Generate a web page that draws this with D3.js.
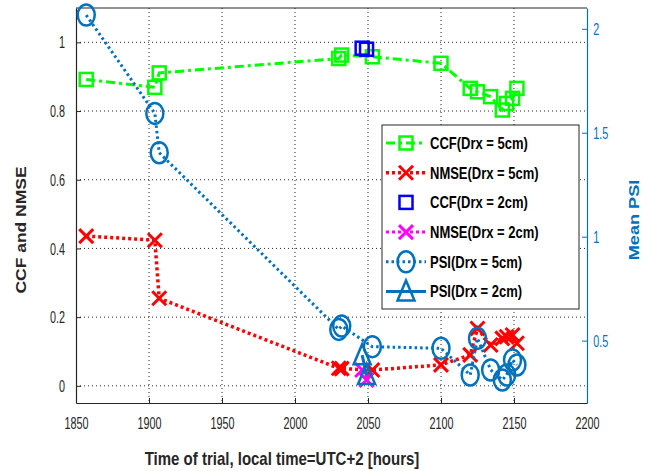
<!DOCTYPE html>
<html>
<head>
<meta charset="utf-8">
<script src="https://cdn.jsdelivr.net/npm/d3@7"></script>
<style>
  body { margin: 0; background: #fff; }
  svg { font-family: "Liberation Sans", Arial, Helvetica, sans-serif; }
</style>
</head>
<body>
<div id="chart"></div>
<script>
// values
var times5 = [1857, 1904, 1907, 2030, 2032, 2053, 2100, 2120, 2125, 2134, 2142, 2145, 2149, 2152];
var ccf5 = [0.892, 0.869, 0.911, 0.953, 0.963, 0.958, 0.939, 0.866, 0.856, 0.842, 0.803, 0.822, 0.837, 0.866];
var nmse5 = [0.436, 0.424, 0.255, 0.051, 0.05, 0.046, 0.061, 0.09, 0.167, 0.119, 0.138, 0.143, 0.148, 0.124];
var psi5 = [2.066, 1.593, 1.404, 0.554, 0.57, 0.471, 0.463, 0.335, 0.511, 0.359, 0.311, 0.335, 0.407, 0.383];

var times2 = [2046, 2049];
var ccf2 = [0.983, 0.98];
var nmse2 = [0.046, 0.017];
var psi2 = [0.43, 0.335];

var x_ticks = [1850, 1900, 1950, 2000, 2050, 2100, 2150, 2200];
var left_ticks = [0, 0.2, 0.4, 0.6, 0.8, 1];
var right_ticks = [0.5, 1, 1.5, 2];

var legend_labels = ['CCF(Drx = 5cm)', 'NMSE(Drx = 5cm)', 'CCF(Drx = 2cm)',
  'NMSE(Drx = 2cm)', 'PSI(Drx = 5cm)', 'PSI(Drx = 2cm)'];

var chart_width = 652;
var chart_height = 471;
var plot_left = 76, plot_right = 587, plot_top = 8, plot_bottom = 403;

var green = '#00ff00', red = '#ff0000', blue = '#0000ff', magenta = '#ff00ff', psi_blue = '#0072bd';

var svg = d3.select('#chart')
  .append('svg')
  .attr('width', chart_width)
  .attr('height', chart_height);

var x_scale = d3.scaleLinear().domain([1850, 2200]).range([plot_left, plot_right]);
var y_left = d3.scaleLinear().domain([-0.05, 1.1]).range([plot_bottom, plot_top]);
var y_right = d3.scaleLinear().domain([0.2, 2.1]).range([plot_bottom, plot_top]);

// grid
var grid = svg.append('g')
  .attr('stroke', '#262626')
  .attr('stroke-width', 1)
  .attr('stroke-dasharray', '1,3');
grid.selectAll('.vg')
  .data(x_ticks.slice(1, -1))
  .enter()
  .append('line')
  .attr('x1', function(d) { return x_scale(d); })
  .attr('x2', function(d) { return x_scale(d); })
  .attr('y1', plot_top)
  .attr('y2', plot_bottom);
grid.selectAll('.hg')
  .data(left_ticks)
  .enter()
  .append('line')
  .attr('x1', plot_left)
  .attr('x2', plot_right)
  .attr('y1', function(d) { return y_left(d); })
  .attr('y2', function(d) { return y_left(d); });

// axes (MATLAB style ticks pointing inward)
// the picture's text is narrow and a bit stretched upright, so the labels get a scale
var tick_squash = 'scale(0.83,1.2)';

var x_axis = d3.axisBottom(x_scale).tickValues(x_ticks).tickSizeInner(-5).tickSizeOuter(0)
  .tickFormat(d3.format('d'));
var gx = svg.append('g').attr('transform', 'translate(0,' + plot_bottom + ')').call(x_axis);
gx.selectAll('.tick text').attr('y', 21.3).attr('dy', 0).attr('transform', tick_squash);

var yl_axis = d3.axisLeft(y_left).tickValues(left_ticks).tickSizeInner(-5).tickSizeOuter(0)
  .tickFormat(d3.format('~g'));
var gyl = svg.append('g').attr('transform', 'translate(' + plot_left + ',0)').call(yl_axis);
gyl.selectAll('.tick text').attr('x', -13.3).attr('y', 4.7).attr('dy', 0).attr('transform', tick_squash);

var yr_axis = d3.axisRight(y_right).tickValues(right_ticks).tickSizeInner(-5).tickSizeOuter(0)
  .tickFormat(d3.format('~g'));
var gyr = svg.append('g').attr('transform', 'translate(' + plot_right + ',0)').call(yr_axis);
gyr.selectAll('.tick text').attr('x', 7.6).attr('y', 4.7).attr('dy', 0).attr('transform', tick_squash);

[gx, gyl].forEach(function(g) {
  g.select('.domain').attr('stroke', '#262626').attr('stroke-width', 1.2);
  g.selectAll('.tick line').attr('stroke', '#262626');
  g.selectAll('.tick text').attr('fill', '#262626').attr('font-size', 13);
});
gyr.select('.domain').attr('stroke', psi_blue).attr('stroke-width', 1.2);
gyr.selectAll('.tick line').attr('stroke', psi_blue);
gyr.selectAll('.tick text').attr('fill', psi_blue).attr('font-size', 13);

// top box line
svg.append('line')
  .attr('x1', plot_left).attr('x2', plot_right)
  .attr('y1', plot_top).attr('y2', plot_top)
  .attr('stroke', '#262626').attr('stroke-width', 1.2);

// markers
function marker(g, type, x, y, color) {
  if (type === 'square') {
    g.append('rect').attr('x', x - 6.5).attr('y', y - 6.5).attr('width', 13).attr('height', 13)
      .attr('fill', 'none').attr('stroke', color).attr('stroke-width', 2.5);
  } else if (type === 'x') {
    g.append('path')
      .attr('d', 'M' + (x - 7) + ',' + (y - 7) + 'L' + (x + 7) + ',' + (y + 7) +
        'M' + (x - 7) + ',' + (y + 7) + 'L' + (x + 7) + ',' + (y - 7))
      .attr('stroke', color).attr('stroke-width', 3).attr('fill', 'none');
  } else if (type === 'circle') {
    g.append('ellipse').attr('cx', x).attr('cy', y).attr('rx', 8.5).attr('ry', 10.5)
      .attr('fill', 'none').attr('stroke', color).attr('stroke-width', 2.5);
  } else if (type === 'triangle') {
    g.append('path')
      .attr('d', 'M' + x + ',' + (y - 11) + 'L' + (x + 8.5) + ',' + (y + 9) + 'L' + (x - 8.5) + ',' + (y + 9) + 'Z')
      .attr('fill', 'none').attr('stroke', color).attr('stroke-width', 2.5);
  }
}

var series = [
  { t: times5, v: ccf5, y: y_left, color: green, dash: '9,4,3,4', width: 3, mk: 'square', line: true },
  { t: times5, v: nmse5, y: y_left, color: red, dash: '3,3', width: 3.5, mk: 'x', line: true },
  { t: times2, v: ccf2, y: y_left, color: blue, dash: null, width: 0, mk: 'square', line: false },
  { t: times2, v: nmse2, y: y_left, color: magenta, dash: '3,3', width: 3, mk: 'x', line: true },
  { t: times5, v: psi5, y: y_right, color: psi_blue, dash: '2.5,3', width: 3, mk: 'circle', line: true },
  { t: times2, v: psi2, y: y_right, color: psi_blue, dash: null, width: 3, mk: 'triangle', line: true }
];

series.forEach(function(s) {
  var g = svg.append('g');
  var pts = s.t.map(function(t, i) { return [x_scale(t), s.y(s.v[i])]; });
  if (s.line) {
    g.append('path')
      .attr('d', d3.line()(pts))
      .attr('fill', 'none')
      .attr('stroke', s.color)
      .attr('stroke-width', s.width)
      .attr('stroke-dasharray', s.dash);
  }
  pts.forEach(function(p) { marker(g, s.mk, p[0], p[1], s.color); });
});

// legend
var lg = svg.append('g');
lg.append('rect')
  .attr('x', 382).attr('y', 125).attr('width', 197).attr('height', 184)
  .attr('fill', '#fff').attr('stroke', '#262626').attr('stroke-width', 1);
series.forEach(function(s, i) {
  var yy = 143 + i * 29.7;
  if (s.line) {
    lg.append('line')
      .attr('x1', 386).attr('x2', 426).attr('y1', yy).attr('y2', yy)
      .attr('stroke', s.color).attr('stroke-width', s.width)
      .attr('stroke-dasharray', s.dash);
  }
  marker(lg, s.mk, 406, yy, s.color);
  lg.append('text')
    .attr('transform', 'translate(430,' + (yy + 5.8) + ') scale(1,1.25)')
    .attr('font-size', 13).attr('font-weight', 'bold')
    .attr('fill', '#000')
    .text(legend_labels[i]);
});

// axis labels
svg.append('text')
  .attr('transform', 'translate(282,464.5) scale(1,1.25)')
  .attr('text-anchor', 'middle')
  .attr('font-size', 15).attr('font-weight', 'bold')
  .attr('fill', '#262626')
  .text('Time of trial, local time=UTC+2 [hours]');

svg.append('text')
  .attr('transform', 'translate(26,230) rotate(-90) scale(1.25,1)')
  .attr('text-anchor', 'middle')
  .attr('font-size', 14).attr('font-weight', 'bold')
  .attr('fill', '#262626')
  .text('CCF and NMSE');

svg.append('text')
  .attr('transform', 'translate(639,220) rotate(-90) scale(1.25,1)')
  .attr('text-anchor', 'middle')
  .attr('font-size', 14.5).attr('font-weight', 'bold')
  .attr('fill', psi_blue)
  .text('Mean PSI');
</script>
</body>
</html>
